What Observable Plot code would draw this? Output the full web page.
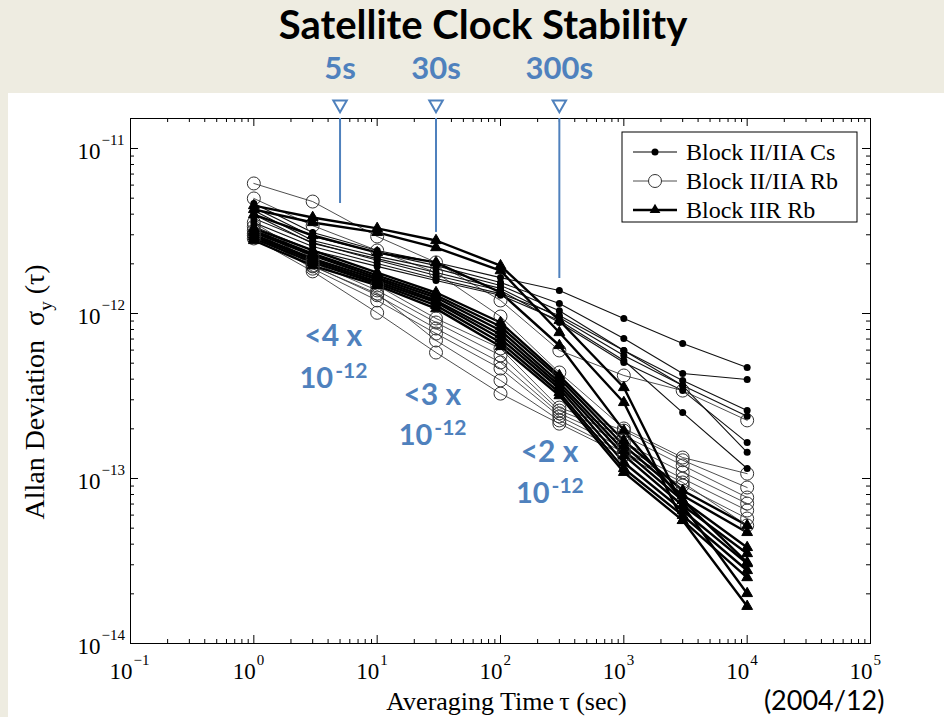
<!DOCTYPE html>
<html><head><meta charset="utf-8">
<script src="https://cdn.jsdelivr.net/npm/d3@7"></script>
<script src="https://cdn.jsdelivr.net/npm/@observablehq/plot@0.6"></script>
<style>
html,body{margin:0;padding:0;overflow:hidden;background:#eeece1;}
#page{position:relative;width:944px;height:717px;background:#eeece1;}
#panel{position:absolute;left:8px;top:93px;width:936px;height:624px;background:#fff;}
#title{position:absolute;left:0;top:0px;width:966px;text-align:center;font:bold 40px Lato;color:#000;}
#chart{position:absolute;left:0;top:0;}
</style></head><body>
<div id="page">
  <div id="panel"></div>
  <div id="title">Satellite Clock Stability</div>
  <div id="chart"></div>
</div>
<script>
// ---- data ----
const taus = [1, 3, 10, 30, 100, 300, 1000, 3000, 10000];

const blockIIACs = [
  [4.64e-12, 3.10e-12, 2.41e-12, 2.04e-12, 1.65e-12, 1.38e-12, 9.33e-13, 6.58e-13, 4.71e-13],
  [4.39e-12, 2.93e-12, 2.34e-12, 1.95e-12, 1.54e-12, 1.15e-12, 7.05e-13, 4.33e-13, 3.98e-13],
  [4.21e-12, 2.77e-12, 2.22e-12, 1.87e-12, 1.48e-12, 1.04e-12, 5.97e-13, 3.93e-13, 2.58e-13],
  [3.98e-12, 2.66e-12, 2.15e-12, 1.77e-12, 1.42e-12, 9.46e-13, 5.57e-13, 3.66e-13, 2.38e-13],
  [3.77e-12, 2.69e-12, 2.10e-12, 1.70e-12, 1.38e-12, 8.82e-13, 5.05e-13, 3.41e-13, 1.65e-13],
  [3.56e-12, 2.55e-12, 2.01e-12, 1.63e-12, 1.32e-12, 9.72e-13, 5.97e-13, 3.66e-13, 1.44e-13],
  [3.37e-12, 2.41e-12, 1.93e-12, 1.585e-12, 1.29e-12, 9.07e-13, 5.19e-13, 2.51e-13, 1.15e-13]
];

const blockIIARb = [
  [6.14e-12, 4.77e-12, 2.93e-12, 2.04e-12, 1.20e-12, 5.97e-13, 4.21e-13, 3.41e-13, 2.25e-13],
  [4.98e-12, 3.41e-12, 2.41e-12, 1.77e-12, 9.59e-13, 4.39e-13, 2.01e-13, 1.34e-13, 1.07e-13],
  [3.56e-12, 2.15e-12, 1.48e-12, 9.33e-13, 6.14e-13, 2.69e-13, 1.95e-13, 1.29e-13, 8.82e-14],
  [3.37e-12, 2.04e-12, 1.38e-12, 8.82e-13, 5.57e-13, 2.58e-13, 1.82e-13, 1.20e-13, 7.67e-14],
  [3.18e-12, 1.95e-12, 1.29e-12, 8.11e-13, 5.05e-13, 2.48e-13, 1.65e-13, 1.09e-13, 7.05e-14],
  [3.05e-12, 1.87e-12, 1.20e-12, 7.56e-13, 4.64e-13, 2.38e-13, 1.52e-13, 1.00e-13, 6.40e-14],
  [2.85e-12, 1.80e-12, 1.01e-12, 5.80e-13, 3.27e-13, 2.15e-13, 1.38e-13, 9.07e-14, 5.72e-14],
  [2.97e-12, 1.93e-12, 1.32e-12, 6.86e-13, 3.93e-13, 2.25e-13, 1.44e-13, 9.46e-14, 5.19e-14]
];

const blockIIRRb = [
  [4.51e-12, 3.82e-12, 3.28e-12, 2.77e-12, 1.95e-12, 9.07e-13, 3.56e-13, 6.86e-14, 2.01e-14],
  [4.27e-12, 3.56e-12, 3.10e-12, 2.51e-12, 1.82e-12, 7.67e-13, 2.89e-13, 5.57e-14, 1.68e-14],
  [3.98e-12, 2.97e-12, 2.34e-12, 2.04e-12, 1.34e-12, 6.40e-13, 1.95e-13, 7.36e-14, 3.10e-14],
  [3.28e-12, 2.41e-12, 1.77e-12, 1.34e-12, 8.82e-13, 4.21e-13, 1.70e-13, 8.46e-14, 5.19e-14],
  [3.18e-12, 2.31e-12, 1.70e-12, 1.29e-12, 8.34e-13, 4.04e-13, 1.585e-13, 7.89e-14, 4.71e-14],
  [3.10e-12, 2.25e-12, 1.65e-12, 1.25e-12, 7.89e-13, 3.82e-13, 1.48e-13, 7.36e-14, 3.82e-14],
  [3.01e-12, 2.15e-12, 1.61e-12, 1.20e-12, 7.46e-13, 3.66e-13, 1.38e-13, 6.86e-14, 3.51e-14],
  [2.93e-12, 2.10e-12, 1.56e-12, 1.17e-12, 7.05e-13, 3.51e-13, 1.25e-13, 6.40e-14, 3.05e-14],
  [2.85e-12, 2.04e-12, 1.52e-12, 1.12e-12, 6.67e-13, 3.32e-13, 1.15e-13, 5.97e-14, 2.77e-14],
  [2.77e-12, 1.95e-12, 1.48e-12, 1.07e-12, 6.31e-13, 3.18e-13, 1.09e-13, 5.57e-14, 2.51e-14]
];

const groupNames = ["Block II/IIA Cs", "Block II/IIA Rb", "Block IIR Rb"];
const xTickExponents = [-1, 0, 1, 2, 3, 4, 5];
const yTickExponents = [-14, -13, -12, -11];
const xLabel = "Averaging Time\u2009\u03c4 (sec)";
const dateStamp = "(2004/12)";

const markerTaus = [5, 30, 300];
const markerLabels = ["5s", "30s", "300s"];
const markerEnds = [4.64e-12, 3.10e-12, 1.63e-12];

const noteTaus = [4.4, 28, 250];
const noteLines = ["<4 x", "<3 x", "<2 x"];
const noteY1 = [7.25e-13, 3.18e-13, 1.44e-13];
const noteY2 = [4.04e-13, 1.82e-13, 8.11e-14];
const noteBase = "10";
const noteSup = "-12";

// ---- build tables ----
const xDomain = [0.1, 1e5];
const yDomain = [1e-14, 1.52e-11];
function toRows(series, group) {
  return series.flatMap((vals, i) => vals.map((v, j) => ({group, id: group + "#" + i, tau: taus[j], adev: v})));
}
const csRows = toRows(blockIIACs, groupNames[0]);
const rbRows = toRows(blockIIARb, groupNames[1]);
const irRows = toRows(blockIIRRb, groupNames[2]);

const xMajor = xTickExponents.map(e => 10 ** e);
const xMinor = [];
for (let e = xTickExponents[0]; e < xTickExponents[xTickExponents.length - 1]; e++)
  for (let m = 2; m < 10; m++) xMinor.push(m * 10 ** e);
const yMajor = yTickExponents.map(e => 10 ** e);
const yMinor = [];
for (let e = yTickExponents[0]; e <= yTickExponents[yTickExponents.length - 1]; e++)
  for (let m = 2; m < 10; m++) { const v = m * 10 ** e; if (v < yDomain[1]) yMinor.push(v); }
const sup = e => (e < 0 ? "\u2212" : "") + Math.abs(e);

const serif = "Liberation Serif, Times New Roman, serif";
const blue = "#4f81bd";
const note = "Lato, Open Sans, sans-serif";

const xTickMarks = (vals, len) => [
  Plot.ruleX(vals, {x: d => d, y1: yDomain[0], y2: yDomain[0], insetBottom: len, stroke: "#000", strokeWidth: 1}),
  Plot.ruleX(vals, {x: d => d, y1: yDomain[1], y2: yDomain[1], insetTop: len, stroke: "#000", strokeWidth: 1})
];
const yTickMarks = (vals, len) => [
  Plot.ruleY(vals, {y: d => d, x1: xDomain[0], x2: xDomain[0], insetLeft: len, stroke: "#000", strokeWidth: 1}),
  Plot.ruleY(vals, {y: d => d, x1: xDomain[1], x2: xDomain[1], insetRight: len, stroke: "#000", strokeWidth: 1})
];

const plot = Plot.plot({
  width: 944, height: 717,
  marginLeft: 130, marginRight: 74, marginTop: 118, marginBottom: 74,
  x: {type: "log", domain: xDomain, axis: null},
  y: {type: "log", domain: yDomain, axis: null},
  style: {background: "transparent", overflow: "visible"},
  marks: [
    ...xTickMarks(xMajor, 8), ...xTickMarks(xMinor, 4),
    ...yTickMarks(yMajor, 8), ...yTickMarks(yMinor, 4),
    // tick labels
    Plot.text(xMajor, {x: d => d, y: yDomain[0], text: () => "10", textAnchor: "end", dx: 2, dy: 28, fontFamily: serif, fontSize: 23, fill: "#000"}),
    Plot.text(xTickExponents, {x: e => 10 ** e, y: yDomain[0], text: sup, textAnchor: "start", dx: 3, dy: 17, fontFamily: serif, fontSize: 15, fill: "#000"}),
    Plot.text(yMajor, {x: xDomain[0], y: d => d, text: () => "10", textAnchor: "end", dx: -30, dy: 3, fontFamily: serif, fontSize: 23, fill: "#000"}),
    Plot.text(yTickExponents, {x: xDomain[0], y: e => 10 ** e, text: sup, textAnchor: "start", dx: -29, dy: -8, fontFamily: serif, fontSize: 15, fill: "#000"}),
    Plot.text([xLabel], {frameAnchor: "bottom", text: d => d, dx: 6, dy: 66, fontFamily: serif, fontSize: 26, fill: "#000"}),
    Plot.text([dateStamp], {frameAnchor: "bottom-right", lineAnchor: "middle", text: d => d, textAnchor: "end", dx: 14, dy: 57.5, fontFamily: note, fontSize: 27, fill: "#000"}),
    // data
    Plot.line(rbRows, {x: "tau", y: "adev", z: "id", stroke: "#3a3a3a", strokeWidth: 0.9}),
    Plot.line(csRows, {x: "tau", y: "adev", z: "id", stroke: "#111", strokeWidth: 1.1}),
    Plot.line(irRows, {x: "tau", y: "adev", z: "id", stroke: "#000", strokeWidth: 2.4}),
    Plot.dot(rbRows, {x: "tau", y: "adev", r: 6.5, stroke: "#333", strokeWidth: 1, fill: "none"}),
    Plot.dot(csRows, {x: "tau", y: "adev", r: 3.5, fill: "#000", stroke: "none"}),
    Plot.dot(irRows, {x: "tau", y: "adev", symbol: "triangle", r: 4, fill: "#000", stroke: "#000", strokeWidth: 1}),
    Plot.frame({stroke: "#000", strokeWidth: 1}),
    // blue annotations
    Plot.ruleX(markerTaus, {x: d => d, y1: (d, i) => markerEnds[i], y2: yDomain[1], stroke: blue, strokeWidth: 2}),
    Plot.dot(markerTaus, {x: d => d, frameAnchor: "top", dy: -14, symbol: "triangle", rotate: 180, r: 5, stroke: blue, strokeWidth: 2, fill: "white"}),
    Plot.text(markerTaus, {x: d => d, frameAnchor: "top", text: (d, i) => markerLabels[i], dy: -62, fontFamily: note, fontWeight: "bold", fontSize: 31, fill: blue}),
    Plot.text(noteTaus, {x: d => d, y: (d, i) => noteY1[i], text: (d, i) => noteLines[i], fontFamily: note, fontWeight: "bold", fontSize: 30, letterSpacing: 1, fill: blue}),
    Plot.text(noteTaus, {x: d => d, y: (d, i) => noteY2[i], text: () => noteBase, textAnchor: "end", fontFamily: note, fontWeight: "bold", fontSize: 29, fill: blue}),
    Plot.text(noteTaus, {x: d => d, y: (d, i) => noteY2[i], text: () => noteSup, textAnchor: "start", dx: 2, dy: -7, fontFamily: note, fontWeight: "bold", fontSize: 21, fill: blue})
  ]
});

// y-axis title with subscript, and the legend
const svg = d3.select(plot);
const yt = svg.append("text")
  .attr("transform", "translate(44,392) rotate(-90)")
  .attr("text-anchor", "middle")
  .attr("font-family", serif).attr("font-size", 28).attr("fill", "#000");
yt.append("tspan").text("Allan Deviation \u00a0\u03c3");
yt.append("tspan").attr("font-size", 19).attr("dy", 8).text("y");
yt.append("tspan").attr("dy", -8).text("\u00a0(\u03c4)");

const lg = svg.append("g");
lg.append("rect").attr("x", 622).attr("y", 132).attr("width", 235).attr("height", 90)
  .attr("fill", "white").attr("stroke", "#000").attr("stroke-width", 1);
const legendStyles = [
  {sw: 1.1, marker: "dot"}, {sw: 0.9, marker: "circle"}, {sw: 2.6, marker: "tri"}
];
groupNames.forEach((name, i) => {
  const cy = 152 + i * 29;
  const g = lg.append("g");
  g.append("line").attr("x1", 633).attr("x2", 677).attr("y1", cy).attr("y2", cy)
    .attr("stroke", i === 1 ? "#3a3a3a" : "#000").attr("stroke-width", legendStyles[i].sw);
  if (legendStyles[i].marker === "dot") g.append("circle").attr("cx", 655).attr("cy", cy).attr("r", 3.5).attr("fill", "#000");
  if (legendStyles[i].marker === "circle") g.append("circle").attr("cx", 655).attr("cy", cy).attr("r", 6.5).attr("fill", "white").attr("stroke", "#333");
  if (legendStyles[i].marker === "tri") g.append("path").attr("d", d3.symbol(d3.symbolTriangle, Math.PI * 16)()).attr("transform", `translate(655,${cy})`).attr("fill", "#000");
  g.append("text").attr("x", 686).attr("y", cy).attr("dy", "0.35em").attr("text-anchor", "start")
    .attr("font-family", serif).attr("font-size", 24).attr("fill", "#000").text(name);
});

document.getElementById("chart").appendChild(plot);
</script>
</body></html>
